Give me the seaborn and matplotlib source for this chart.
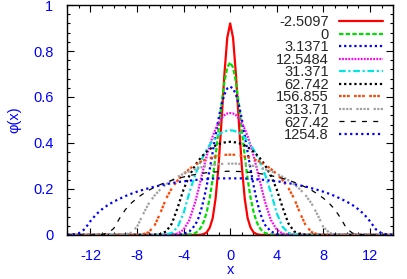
"""Ground-state profiles phi(x) for several interaction strengths."""

import matplotlib
matplotlib.use("Agg")
import matplotlib.pyplot as plt
import seaborn as sns
from matplotlib.ticker import MultipleLocator

# x grid: 0.5 steps outside |x| <= 3, 0.25 steps inside
x = [-14, -13.5, -13, -12.5, -12, -11.5, -11, -10.5, -10, -9.5, -9, -8.5,
     -8, -7.5, -7, -6.5, -6, -5.5, -5, -4.5, -4, -3.5,
     -3, -2.75, -2.5, -2.25, -2, -1.75, -1.5, -1.25, -1, -0.75, -0.5, -0.25,
     0, 0.25, 0.5, 0.75, 1, 1.25, 1.5, 1.75, 2, 2.25, 2.5, 2.75, 3,
     3.5, 4, 4.5, 5, 5.5, 6, 6.5, 7, 7.5, 8, 8.5,
     9, 9.5, 10, 10.5, 11, 11.5, 12, 12.5, 13, 13.5, 14]

betas = ["-2.5097", "0", "3.1371", "12.5484", "31.371", "62.742",
         "156.855", "313.71", "627.42", "1254.8"]

phi_b1 = [0, 0, 0, 0, 0, 0, 0, 0, 0, 0, 0, 0, 0, 0, 0, 0, 0, 0, 0, 0, 0, 0,
          0.0, 0.0, 0.001, 0.004, 0.012, 0.032, 0.073, 0.159, 0.299, 0.489, 0.695, 0.857,
          0.92, 0.857, 0.695, 0.489, 0.299, 0.159, 0.073, 0.032, 0.012, 0.004, 0.001, 0.0, 0.0,
          0, 0, 0, 0, 0, 0, 0, 0, 0, 0, 0, 0, 0, 0, 0, 0, 0, 0, 0, 0, 0, 0]

phi_b2 = [0, 0, 0, 0, 0, 0, 0, 0, 0, 0, 0, 0, 0, 0, 0, 0, 0, 0, 0, 0, 0, 0.002,
          0.008, 0.017, 0.033, 0.060, 0.102, 0.162, 0.244, 0.344, 0.456, 0.567, 0.663, 0.728,
          0.751, 0.728, 0.663, 0.567, 0.456, 0.344, 0.244, 0.162, 0.102, 0.060, 0.033, 0.017, 0.008,
          0.002, 0, 0, 0, 0, 0, 0, 0, 0, 0, 0, 0, 0, 0, 0, 0, 0, 0, 0, 0, 0, 0]

phi_b3 = [0, 0, 0, 0, 0, 0, 0, 0, 0, 0, 0, 0, 0, 0, 0, 0, 0, 0, 0, 0.001, 0.004, 0.015,
          0.043, 0.070, 0.108, 0.158, 0.218, 0.287, 0.360, 0.435, 0.505, 0.565, 0.610, 0.637,
          0.645, 0.637, 0.610, 0.565, 0.505, 0.435, 0.360, 0.287, 0.218, 0.158, 0.108, 0.070, 0.043,
          0.015, 0.004, 0.001, 0, 0, 0, 0, 0, 0, 0, 0, 0, 0, 0, 0, 0, 0, 0, 0, 0, 0, 0]

phi_b4 = [0, 0, 0, 0, 0, 0, 0, 0, 0, 0, 0, 0, 0, 0, 0, 0, 0, 0, 0.001, 0.006, 0.023, 0.065,
          0.143, 0.193, 0.245, 0.297, 0.346, 0.390, 0.429, 0.461, 0.487, 0.507, 0.521, 0.528,
          0.530, 0.528, 0.521, 0.507, 0.487, 0.461, 0.429, 0.390, 0.346, 0.297, 0.245, 0.193, 0.143,
          0.065, 0.023, 0.006, 0.001, 0, 0, 0, 0, 0, 0, 0, 0, 0, 0, 0, 0, 0, 0, 0, 0, 0, 0]

phi_b5 = [0, 0, 0, 0, 0, 0, 0, 0, 0, 0, 0, 0, 0, 0, 0, 0, 0, 0.002, 0.009, 0.035, 0.095, 0.185,
          0.262, 0.293, 0.322, 0.348, 0.372, 0.392, 0.410, 0.424, 0.436, 0.444, 0.450, 0.454,
          0.455, 0.454, 0.450, 0.444, 0.436, 0.424, 0.410, 0.392, 0.372, 0.348, 0.322, 0.293, 0.262,
          0.185, 0.095, 0.035, 0.009, 0.002, 0, 0, 0, 0, 0, 0, 0, 0, 0, 0, 0, 0, 0, 0, 0, 0, 0]

phi_b6 = [0, 0, 0, 0, 0, 0, 0, 0, 0, 0, 0, 0, 0, 0, 0, 0.001, 0.004, 0.015, 0.050, 0.120, 0.198, 0.258,
          0.303, 0.321, 0.337, 0.351, 0.363, 0.373, 0.382, 0.389, 0.395, 0.399, 0.402, 0.404,
          0.405, 0.404, 0.402, 0.399, 0.395, 0.389, 0.382, 0.373, 0.363, 0.351, 0.337, 0.321, 0.303,
          0.258, 0.198, 0.120, 0.050, 0.015, 0.004, 0.001, 0, 0, 0, 0, 0, 0, 0, 0, 0, 0, 0, 0, 0, 0, 0]

phi_b7 = [0, 0, 0, 0, 0, 0, 0, 0, 0, 0, 0, 0, 0, 0.003, 0.012, 0.040, 0.095, 0.158, 0.204, 0.238, 0.265, 0.287,
          0.305, 0.312, 0.319, 0.325, 0.330, 0.334, 0.338, 0.341, 0.344, 0.346, 0.348, 0.349,
          0.349, 0.349, 0.348, 0.346, 0.344, 0.341, 0.338, 0.334, 0.330, 0.325, 0.319, 0.312, 0.305,
          0.287, 0.265, 0.238, 0.204, 0.158, 0.095, 0.040, 0.012, 0.003, 0, 0, 0, 0, 0, 0, 0, 0, 0, 0, 0, 0, 0]

phi_b8 = [0, 0, 0, 0, 0, 0, 0, 0, 0, 0, 0.002, 0.010, 0.035, 0.088, 0.136, 0.171, 0.198, 0.220, 0.238, 0.253, 0.266, 0.277,
          0.286, 0.290, 0.294, 0.297, 0.300, 0.303, 0.305, 0.307, 0.308, 0.309, 0.310, 0.310,
          0.310, 0.310, 0.310, 0.309, 0.308, 0.307, 0.305, 0.303, 0.300, 0.297, 0.294, 0.290, 0.286,
          0.277, 0.266, 0.253, 0.238, 0.220, 0.198, 0.171, 0.136, 0.088, 0.035, 0.010, 0.002, 0, 0, 0, 0, 0, 0, 0, 0, 0, 0]

phi_b9 = [0, 0, 0, 0, 0, 0, 0.002, 0.008, 0.028, 0.072, 0.110, 0.138, 0.160, 0.178, 0.194, 0.207, 0.219, 0.229, 0.238, 0.246, 0.252, 0.258,
          0.263, 0.265, 0.267, 0.269, 0.271, 0.272, 0.273, 0.274, 0.275, 0.276, 0.276, 0.277,
          0.277, 0.277, 0.276, 0.276, 0.275, 0.274, 0.273, 0.272, 0.271, 0.269, 0.267, 0.265, 0.263,
          0.258, 0.252, 0.246, 0.238, 0.229, 0.219, 0.207, 0.194, 0.178, 0.160, 0.138, 0.110, 0.072, 0.028, 0.008, 0.002, 0, 0, 0, 0, 0, 0]

phi_b10 = [0.0, 0.002, 0.007, 0.025, 0.060, 0.090, 0.112, 0.130, 0.145, 0.157, 0.169, 0.179, 0.188, 0.196, 0.203, 0.210, 0.215, 0.221, 0.225, 0.230, 0.233, 0.236,
           0.239, 0.240, 0.241, 0.242, 0.243, 0.244, 0.245, 0.245, 0.246, 0.246, 0.246, 0.246,
           0.246, 0.246, 0.246, 0.246, 0.246, 0.245, 0.245, 0.244, 0.243, 0.242, 0.241, 0.240, 0.239,
           0.236, 0.233, 0.230, 0.225, 0.221, 0.215, 0.210, 0.203, 0.196, 0.188, 0.179, 0.169, 0.157, 0.145, 0.130, 0.112, 0.090, 0.060, 0.025, 0.007, 0.002, 0.0]

curves = [phi_b1, phi_b2, phi_b3, phi_b4, phi_b5, phi_b6, phi_b7, phi_b8, phi_b9, phi_b10]
assert all(len(c) == len(x) for c in curves)

# gnuplot-like line styles
colors = ["#ff0000", "#00dd00", "#0000ff", "#ff00ff", "#00e5e5",
          "#000000", "#ff4500", "#a0a0a0", "#000000", "#0000ff"]
styles = ["-", (0, (2, 1)), (0, (1, 1.3)), (0, (0.8, 0.6)), (0, (3, 1.2, 1, 1.2)),
          (0, (1, 1.3)), (0, (1.2, 0.6, 1.2, 0.6, 1.2, 2)),
          (0, (1, 0.6, 1, 0.6, 1, 0.6, 1, 2)), (0, (4, 5)), (0, (1, 1.5))]
widths = [1.6, 1.6, 1.6, 1.6, 1.6, 1.6, 1.6, 1.6, 0.9, 1.6]

sns.set_style("ticks")
plt.rcParams["font.family"] = ["Liberation Sans", "DejaVu Sans"]
plt.rcParams["axes.unicode_minus"] = False

fig = plt.figure(figsize=(4.07, 2.79), dpi=100)
ax = fig.add_axes([0.165, 0.158, 0.801, 0.824])

for y, lab, c, ls, lw in zip(curves, betas, colors, styles, widths):
    sns.lineplot(x=x, y=y, ax=ax, color=c, linestyle=ls, linewidth=lw,
                 label=lab, errorbar=None, sort=False)

ax.set_xlim(-14, 14)
ax.set_ylim(0, 1)
ax.xaxis.set_major_locator(MultipleLocator(4))
ax.xaxis.set_minor_locator(MultipleLocator(1))
ax.yaxis.set_major_locator(MultipleLocator(0.2))
ax.yaxis.set_minor_locator(MultipleLocator(0.04))
ax.yaxis.set_major_formatter(lambda v, pos: f"{v:g}")

ax.tick_params(which="both", direction="in", top=True, right=True,
               color="black", labelcolor="blue", width=0.8)
ax.tick_params(which="major", length=5, pad=10, labelsize=10.5)
ax.tick_params(which="minor", length=2.5)
for s in ax.spines.values():
    s.set_color("black")
    s.set_linewidth(1.0)

ax.set_xlabel("x", color="blue", fontsize=10.5, labelpad=0)
ax.set_ylabel("φ(x)", color="blue", fontsize=10.5, labelpad=8)

ax.legend(loc="upper right", markerfirst=False, frameon=False, fontsize=10.5,
          handlelength=3.0, handletextpad=0.7, labelspacing=-0.1,
          borderaxespad=0.4, borderpad=0.3)

fig.savefig("out.png", dpi=100)
